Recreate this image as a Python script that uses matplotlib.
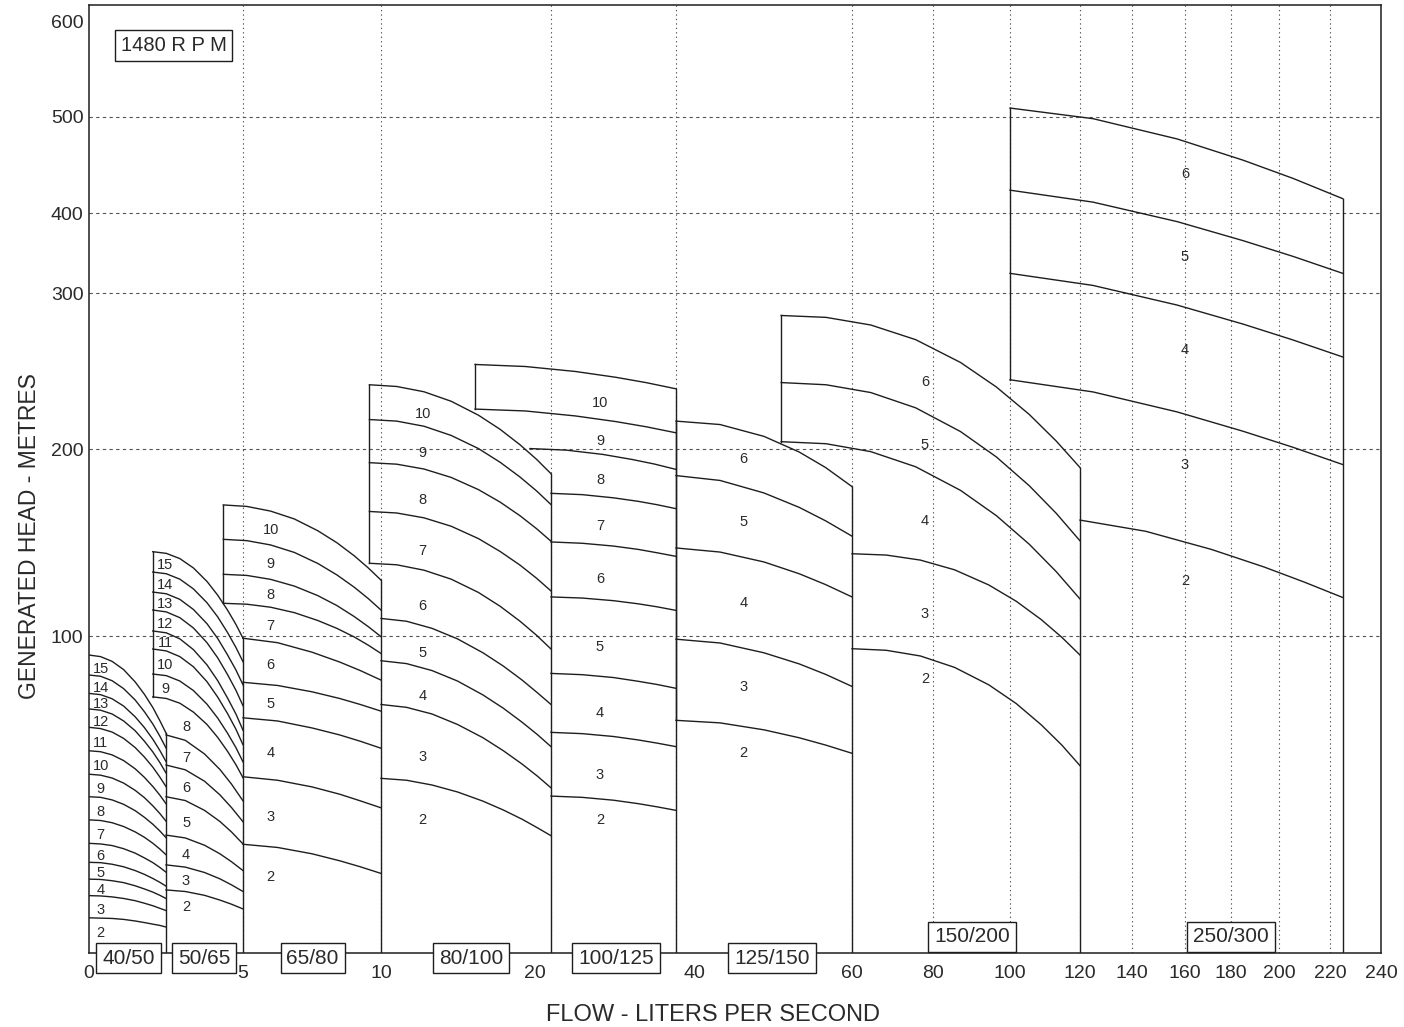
import numpy as np
import matplotlib.pyplot as plt

plt.rcParams['font.family'] = ['Liberation Sans', 'DejaVu Sans']

# ---- pump curves: flow (l/s) and head (m) per number of stages ----
f4050 = [0, 0.375, 0.75, 1.125, 1.5, 1.8, 2.075, 2.3, 2.5]
h4050 = {
    15: [94.0, 93.5, 92.0, 89.4, 85.5, 81.6, 77.4, 73.3, 69.4],
    14: [87.7, 87.3, 85.9, 83.4, 79.8, 76.1, 72.2, 68.4, 64.7],
    13: [81.9, 81.5, 80.2, 77.9, 74.5, 71.1, 67.4, 63.9, 60.4],
    12: [77.0, 76.6, 75.4, 73.2, 70.1, 66.8, 63.4, 60.1, 56.8],
    11: [71.2, 70.8, 69.7, 67.7, 64.8, 61.8, 58.6, 55.5, 52.5],
    10: [63.8, 63.5, 62.5, 60.7, 58.1, 55.4, 52.5, 49.8, 47.1],
    9: [56.4, 56.1, 55.2, 53.6, 51.3, 49.0, 46.4, 44.0, 41.6],
    8: [49.3, 49.1, 48.3, 46.9, 44.9, 42.8, 40.6, 38.5, 36.4],
    7: [42.0, 41.8, 41.1, 39.9, 38.2, 36.5, 34.6, 32.8, 31.0],
    6: [34.6, 34.4, 33.9, 32.9, 31.5, 30.0, 28.5, 27.0, 25.5],
    5: [28.6, 28.5, 28.0, 27.2, 26.0, 24.8, 23.5, 22.3, 21.1],
    4: [23.3, 23.2, 22.8, 22.2, 21.2, 20.2, 19.2, 18.2, 17.2],
    3: [18.1, 18.0, 17.7, 17.2, 16.5, 15.7, 14.9, 14.1, 13.4],
    2: [11.1, 11.0, 10.9, 10.6, 10.1, 9.6, 9.1, 8.7, 8.2],
}

f5065_hi = [2.07, 2.51, 2.95, 3.39, 3.83, 4.18, 4.5, 4.77, 5.0]
h5065_hi = {
    15: [145.1, 144.2, 141.4, 136.4, 129.2, 121.8, 113.8, 106.2, 99.3],
    14: [134.2, 133.3, 130.4, 125.2, 117.8, 110.2, 101.8, 96.4, 91.9],
    13: [123.5, 122.6, 119.6, 114.2, 106.6, 99.2, 94.0, 89.3, 84.6],
    12: [113.9, 112.9, 109.8, 104.3, 97.9, 93.1, 87.8, 82.9, 78.0],
    11: [102.7, 101.7, 99.1, 95.7, 90.9, 85.9, 80.4, 75.4, 70.3],
    10: [95.9, 95.3, 93.5, 90.3, 85.6, 80.7, 75.5, 70.6, 65.7],
    9: [88.0, 87.5, 85.8, 82.8, 78.5, 74.1, 69.3, 64.8, 60.3],
    8: [80.8, 80.3, 78.8, 76.0, 72.1, 68.0, 63.6, 59.4, 55.3],
}
f5065_lo = [2.5, 3.125, 3.75, 4.25, 4.625, 5.0]
h5065_lo = {
    7: [68.8, 67.1, 62.8, 57.9, 53.3, 48.0],
    6: [59.3, 57.8, 54.2, 49.9, 45.9, 41.4],
    5: [49.3, 48.1, 45.0, 41.5, 38.2, 34.4],
    4: [37.2, 36.3, 34.0, 31.3, 28.8, 26.0],
    3: [27.8, 27.1, 25.4, 23.4, 21.5, 19.4],
    2: [19.9, 19.4, 18.2, 16.7, 15.4, 13.9],
}

f6580_hi = [4.36, 5.14, 6.0, 6.86, 7.71, 8.4, 9.03, 9.54, 10]
h6580_hi = {
    10: [170.1, 169.3, 166.8, 162.6, 156.3, 149.9, 142.9, 136.4, 129.9],
    9: [151.7, 151.0, 148.7, 144.7, 138.8, 132.7, 126.1, 120.0, 113.9],
    8: [133.0, 132.4, 130.3, 126.7, 121.6, 116.3, 110.4, 105.0, 99.8],
    7: [117.5, 117.0, 115.4, 112.5, 108.3, 104.1, 99.7, 97.1, 94.5],
}
f6580_lo = [5, 6.25, 7.5, 8.5, 9.25, 10]
h6580_lo = {
    6: [99.3, 97.9, 94.9, 91.8, 89.1, 86.1],
    5: [85.4, 84.4, 82.4, 80.3, 78.4, 76.3],
    4: [74.2, 73.2, 71.0, 68.8, 66.8, 64.6],
    3: [55.6, 54.5, 52.4, 50.1, 48.0, 45.8],
    2: [34.3, 33.3, 31.3, 29.1, 27.2, 25.1],
}

f80100_hi = [9.58, 10.92, 12.53, 14.13, 15.73, 17.01, 18.18, 19.15, 20]
h80100_hi = {
    10: [241.2, 240.1, 236.7, 230.6, 221.7, 212.6, 202.7, 194.5, 186.8],
    9: [218.9, 217.9, 214.6, 208.7, 200.3, 192.9, 185.0, 177.6, 170.3],
    8: [192.7, 191.9, 189.3, 184.8, 178.3, 171.6, 164.3, 157.4, 150.7],
    7: [166.6, 165.8, 163.2, 158.7, 152.1, 145.2, 137.9, 130.9, 124.1],
    6: [138.9, 138.1, 135.2, 130.4, 123.3, 115.9, 107.9, 100.4, 95.9],
}
f80100_lo = [10, 11.5, 13, 14.5, 16, 17.2, 18.3, 19.2, 20]
h80100_lo = {
    5: [109.4, 107.9, 104.1, 99.1, 94.7, 90.5, 86.1, 82.1, 78.4],
    4: [92.2, 91.3, 89.1, 85.8, 81.4, 77.2, 72.8, 68.9, 65.1],
    3: [78.4, 77.5, 75.4, 72.1, 67.9, 63.8, 59.6, 55.8, 52.1],
    2: [55.1, 54.5, 53.0, 50.8, 47.9, 45.1, 42.2, 39.5, 37.0],
}

f100125_top = [15.53, 18.49, 23.92, 30.35, 35.18, 40]
h100125_top = {
    10: [254.2, 252.9, 249.7, 246.0, 242.6, 238.6],
    9: [225.6, 224.4, 221.2, 217.6, 214.3, 210.4],
}
f100125_mid = [18.76, 22.48, 28.32, 32.99, 36.5, 40]
h100125_mid = {8: [200.3, 199.4, 197.1, 194.4, 192.0, 189.1]}
f100125_lo = [20, 25, 30, 34, 37, 40]
h100125_lo = {
    7: [176.3, 175.6, 173.9, 172.0, 170.2, 168.1],
    6: [150.3, 149.6, 148.1, 146.3, 144.5, 142.6],
    5: [120.9, 120.3, 118.9, 117.2, 115.6, 113.7],
    4: [88.2, 87.8, 86.9, 85.7, 84.7, 83.5],
    3: [69.6, 69.2, 68.3, 67.2, 66.2, 65.1],
    2: [49.5, 49.1, 48.2, 47.1, 46.1, 45.0],
}

f125150 = [40, 45, 50, 54, 57, 60]
h125150 = {
    6: [217.9, 215.7, 208.1, 198.4, 190.1, 179.9],
    5: [185.8, 183.2, 176.5, 168.8, 161.6, 153.4],
    4: [147.1, 144.9, 139.6, 133.3, 127.5, 120.9],
    3: [99.0, 97.8, 94.7, 91.2, 87.9, 84.1],
    2: [73.4, 72.6, 70.4, 67.9, 65.6, 63.0],
}

f150200_hi = [51.95, 57.05, 64.64, 75.73, 87.14, 96.44, 105.49, 113.17, 120]
h150200_hi = {
    6: [285.6, 284.4, 279.5, 270.1, 255.5, 239.8, 222.2, 205.2, 190.1],
    5: [242.6, 241.2, 236.2, 226.4, 211.2, 195.8, 180.4, 165.7, 150.9],
    4: [204.7, 203.4, 198.6, 190.5, 177.9, 164.4, 149.1, 134.5, 119.8],
}
f150200_lo = [60, 68.44, 76.89, 85.61, 94.49, 101.77, 108.91, 114.8, 120]
h150200_lo = {
    3: [144.0, 143.3, 140.6, 135.4, 127.3, 118.6, 108.8, 99.6, 94.0],
    2: [96.0, 95.5, 93.7, 90.1, 84.6, 78.7, 72.0, 65.6, 59.1],
}

f250300_hi = [100, 125, 157, 185, 205.5, 225]
h250300_hi = {
    6: [508.9, 497.8, 476.8, 454.8, 435.9, 414.9],
    5: [423.7, 411.3, 389.3, 365.5, 345.8, 324.6],
    4: [324.6, 309.5, 292.3, 280.1, 269.9, 259.0],
    3: [244.4, 236.6, 223.8, 211.4, 201.1, 191.7],
}
f250300_lo = [120, 145.2, 171.5, 193.8, 209.6, 225]
h250300_lo = {2: [162.0, 156.0, 146.3, 136.9, 129.0, 120.6]}

models = [
    ("40/50", [(f4050, h4050)]),
    ("50/65", [(f5065_hi, h5065_hi), (f5065_lo, h5065_lo)]),
    ("65/80", [(f6580_hi, h6580_hi), (f6580_lo, h6580_lo)]),
    ("80/100", [(f80100_hi, h80100_hi), (f80100_lo, h80100_lo)]),
    ("100/125", [(f100125_top, h100125_top), (f100125_mid, h100125_mid),
                 (f100125_lo, h100125_lo)]),
    ("125/150", [(f125150, h125150)]),
    ("150/200", [(f150200_hi, h150200_hi), (f150200_lo, h150200_lo)]),
    ("250/300", [(f250300_hi, h250300_hi), (f250300_lo, h250300_lo)]),
]

x_ticks = [0, 5, 10, 20, 40, 60, 80, 100, 120, 140, 160, 180, 200, 220, 240]
y_ticks = [100, 200, 300, 400, 500, 600]
x_grid = [5, 10, 20, 40, 60, 80, 100, 120, 140, 160, 180, 200, 220]
y_grid = [100, 200, 300, 400, 500]

# ---- layout ----
# the chart uses an uneven, piecewise axis on both sides
x_knots = [0, 5, 10, 20, 40, 60, 80, 100, 120, 140, 160, 180, 200, 220, 240, 260]
x_pos = [0, 154, 292, 462, 587, 763, 844, 921, 991, 1043, 1096, 1142, 1190, 1241, 1292, 1343]
y_knots = [0, 100, 200, 300, 400, 500, 600, 700]
y_pos = [0, 317, 504, 660, 740, 836.5, 932, 1027.5]

def fx(v):
    return np.interp(v, x_knots, x_pos)

def fx_inv(v):
    return np.interp(v, x_pos, x_knots)

def fy(v):
    return np.interp(v, y_knots, y_pos)

def fy_inv(v):
    return np.interp(v, y_pos, y_knots)

# where the stage numbers sit (first stage from which a flow applies)
label_at = {
    "40/50": [(2, 0.38)],
    "50/65": [(9, 2.47), (2, 3.15)],
    "65/80": [(2, 6.0)],
    "80/100": [(2, 12.45)],
    "100/125": [(2, 27.84)],
    "125/150": [(2, 47.7)],
    "150/200": [(2, 78.0)],
    "250/300": [(2, 160.0)],
}
# how far down the gap to the next lower curve a number sits
label_frac = {"40/50": 0.62, "50/65": 0.58, "65/80": 0.55, "80/100": 0.64,
              "100/125": 0.62, "125/150": 0.5, "150/200": 0.55, "250/300": 0.4}
low_off = {"40/50": 15, "50/65": 15, "65/80": 30, "80/100": 37,
           "100/125": 21, "125/150": 26, "150/200": 22, "250/300": 39}
box_at = {"40/50": (1.28, -0.0053), "50/65": (3.73, -0.0053),
          "65/80": (7.52, -0.0053), "80/100": (15.29, -0.0053),
          "100/125": (30.4, -0.0053), "125/150": (50.9, -0.0053),
          "150/200": (90.1, 0.0169), "250/300": (180.0, 0.0169)}
# "20" and "40" are printed off their grid lines in the original
x_label_pos = {20: 19.06, 40: 42.05}

ink = '#1e1e1e'
txt = '#2a2a2a'
grid_c = '#555555'

fig = plt.figure(figsize=(14.04, 10.27), dpi=100)
ax = fig.add_axes([89 / 1404, 74 / 1027, 1292 / 1404, 948 / 1027])
ax.set_xscale('function', functions=(fx, fx_inv))
ax.set_yscale('function', functions=(fy, fy_inv))
ax.set_xlim(0, 240)
ax.set_ylim(0, 616.8)

for g in x_grid:
    ax.axvline(g, color=grid_c, lw=0.8, ls=(0, (1.2, 2.8)), zorder=0.5)
for g in y_grid:
    ax.axhline(g, color=grid_c, lw=0.8, ls=(0, (3, 3)), zorder=0.5)

for name, groups in models:
    curves = {}
    for flows, heads in groups:
        for st, h in heads.items():
            curves[st] = (flows, h)
            ax.plot(flows, h, color=ink, lw=1.0, zorder=2)

    # boundary lines of the model's field
    q0 = min(f[0] for f, _ in curves.values())
    q1 = max(f[-1] for f, _ in curves.values())
    starts = [h[0] for f, h in curves.values() if f[0] == q0]
    if q0 > 0:
        ax.plot([q0, q0], [min(starts), max(starts)], color=ink, lw=1.0, zorder=2)
    top_end = max(h[-1] for f, h in curves.values())
    ax.plot([q1, q1], [0, top_end], color=ink, lw=1.0, zorder=2)

    # stage numbers, in the gap below their curve
    stages = sorted(curves)
    for st in stages:
        lx = next(q for s_min, q in label_at[name] if st >= s_min)
        f, h = curves[st]
        here = np.interp(lx, f, h)
        lower = [s for s in stages if s < st]
        if lower:
            f2, h2 = curves[max(lower)]
            other = np.interp(lx, f2, h2)
            ly = fy_inv(fy(here) + label_frac[name] * (fy(other) - fy(here)))
            ax.text(lx, ly, str(st), ha='center', va='center',
                    fontsize=10.5, color=txt, zorder=3)
        else:
            ax.annotate(str(st), (lx, here), xytext=(0, -low_off[name]),
                        textcoords='offset pixels', ha='center', va='center',
                        fontsize=10.5, color=txt, zorder=3)

    bx, by = box_at[name]
    ax.text(bx, by, name, transform=ax.get_xaxis_transform(), ha='center',
            va='center', fontsize=15, color=txt, zorder=5, clip_on=False,
            bbox=dict(boxstyle='square,pad=0.28', fc='white', ec=ink, lw=1.0))

ax.text(0.0654, 0.9568, '1480 R P M', transform=ax.transAxes, ha='center',
        va='center', fontsize=14.5, color=txt, zorder=5,
        bbox=dict(boxstyle='square,pad=0.3', fc='white', ec=ink, lw=1.0))

ax.set_xticks([x_label_pos.get(t, t) for t in x_ticks])
ax.set_xticklabels([str(t) for t in x_ticks])
ax.set_yticks(y_ticks)
ax.set_yticklabels([str(t) for t in y_ticks])
ax.minorticks_off()
ax.tick_params(axis='both', length=0, labelsize=14, labelcolor=txt)
ax.tick_params(axis='x', pad=9)
ax.tick_params(axis='y', pad=4)
for sp in ax.spines.values():
    sp.set_color(ink)
    sp.set_linewidth(1.1)

fig.text(712.5 / 1404, 1 - 1015 / 1027, 'FLOW - LITERS PER SECOND', ha='center',
         va='center', fontsize=17, color=txt)
fig.text(30 / 1404, 1 - 536 / 1027, 'GENERATED HEAD - METRES', rotation=90,
         ha='center', va='center', fontsize=16.5, color=txt)

fig.savefig('out.png', dpi=100)
